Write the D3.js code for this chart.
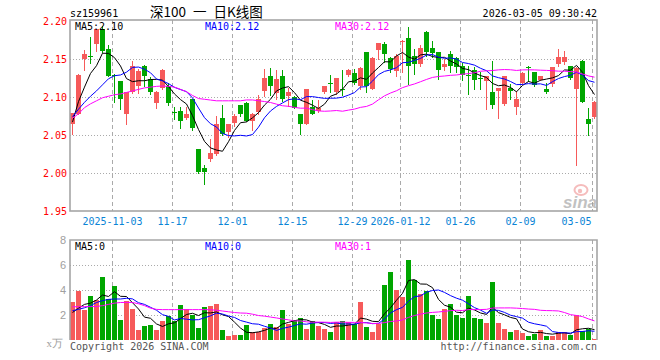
<!DOCTYPE html>
<html>
<head>
<meta charset="utf-8">
<script src="https://cdn.jsdelivr.net/npm/d3@7"></script>
<style>
  body { margin: 0; background: #fff; }
  svg { display: block; }
  .mono { font-family: "DejaVu Sans Mono", monospace; font-size: 10px; }
</style>
</head>
<body>
<svg id="chart" width="660" height="360"></svg>
<script>
// trading days shown, 2025-10-23 .. 2026-03-05
const dates = [
  "2025-10-23","2025-10-24","2025-10-27","2025-10-28","2025-10-29","2025-10-30","2025-10-31",
  "2025-11-03","2025-11-04","2025-11-05","2025-11-06","2025-11-07","2025-11-10","2025-11-11","2025-11-12","2025-11-13","2025-11-14",
  "2025-11-17","2025-11-18","2025-11-19","2025-11-20","2025-11-21","2025-11-24","2025-11-25","2025-11-26","2025-11-27","2025-11-28",
  "2025-12-01","2025-12-02","2025-12-03","2025-12-04","2025-12-05","2025-12-08","2025-12-09","2025-12-10","2025-12-11","2025-12-12",
  "2025-12-15","2025-12-16","2025-12-17","2025-12-18","2025-12-19","2025-12-22","2025-12-23","2025-12-24","2025-12-25","2025-12-26",
  "2025-12-29","2025-12-30","2025-12-31","2026-01-05","2026-01-06","2026-01-07","2026-01-08","2026-01-09",
  "2026-01-12","2026-01-13","2026-01-14","2026-01-15","2026-01-16","2026-01-19","2026-01-20","2026-01-21","2026-01-22","2026-01-23",
  "2026-01-26","2026-01-27","2026-01-28","2026-01-29","2026-01-30","2026-02-02","2026-02-03","2026-02-04","2026-02-05","2026-02-06",
  "2026-02-09","2026-02-10","2026-02-11","2026-02-12","2026-02-13","2026-02-24","2026-02-25","2026-02-26","2026-02-27",
  "2026-03-02","2026-03-03","2026-03-04","2026-03-05"
];

const open = [
  2.065,2.078,2.150,2.154,2.170,2.189,2.163,2.129,2.121,2.078,
  2.106,2.115,2.141,2.124,2.092,2.112,2.115,2.080,2.082,2.072,
  2.097,2.032,2.007,2.019,2.025,2.072,2.054,2.066,2.089,2.092,
  2.068,2.080,2.108,2.127,2.105,2.127,2.101,2.100,2.078,2.065,
  2.087,2.081,2.106,2.118,2.106,2.110,2.129,2.131,2.115,2.159,
  2.111,2.162,2.170,2.151,2.134,2.172,2.178,2.154,2.143,2.185,
  2.165,2.159,2.139,2.156,2.151,2.141,2.129,2.135,2.125,2.121,
  2.106,2.108,2.091,2.112,2.087,2.118,2.140,2.133,2.122,2.111,
  2.117,2.143,2.146,2.141,2.110,2.147,2.071,2.074
];
const high = [
  2.079,2.130,2.162,2.179,2.190,2.194,2.168,2.130,2.121,2.107,
  2.147,2.137,2.142,2.126,2.108,2.137,2.119,2.087,2.087,2.087,
  2.098,2.032,2.011,2.045,2.075,2.089,2.065,2.078,2.089,2.093,
  2.079,2.102,2.137,2.138,2.135,2.135,2.112,2.101,2.078,2.111,
  2.096,2.096,2.115,2.129,2.125,2.136,2.137,2.137,2.139,2.159,
  2.152,2.171,2.173,2.152,2.157,2.175,2.192,2.163,2.168,2.187,
  2.174,2.159,2.150,2.161,2.153,2.145,2.141,2.139,2.133,2.127,
  2.147,2.112,2.127,2.117,2.108,2.133,2.141,2.133,2.128,2.119,
  2.139,2.163,2.160,2.141,2.139,2.149,2.085,2.095
];
const low = [
  2.051,2.077,2.135,2.145,2.161,2.159,2.127,2.093,2.084,2.065,
  2.105,2.105,2.115,2.104,2.086,2.110,2.090,2.071,2.059,2.071,
  2.057,2.000,1.985,2.016,2.024,2.050,2.047,2.062,2.075,2.068,
  2.056,2.077,2.101,2.102,2.097,2.095,2.088,2.085,2.051,2.064,
  2.077,2.080,2.105,2.106,2.104,2.102,2.127,2.117,2.111,2.106,
  2.110,2.150,2.146,2.133,2.128,2.133,2.117,2.130,2.141,2.154,
  2.153,2.124,2.135,2.133,2.133,2.122,2.104,2.111,2.111,2.084,
  2.086,2.073,2.089,2.098,2.078,2.117,2.121,2.115,2.122,2.105,
  2.115,2.141,2.143,2.124,2.010,2.093,2.050,2.072
];
const close = [
  2.079,2.129,2.156,2.153,2.189,2.161,2.128,2.128,2.098,2.106,
  2.141,2.134,2.128,2.106,2.107,2.136,2.092,2.079,2.069,2.078,
  2.059,2.001,2.001,2.026,2.064,2.051,2.064,2.075,2.077,2.069,
  2.078,2.098,2.125,2.115,2.124,2.097,2.107,2.086,2.065,2.110,
  2.078,2.086,2.114,2.117,2.125,2.109,2.135,2.119,2.138,2.115,
  2.151,2.171,2.157,2.137,2.154,2.174,2.141,2.143,2.165,2.159,
  2.158,2.135,2.144,2.141,2.139,2.129,2.127,2.122,2.124,2.127,
  2.089,2.112,2.127,2.108,2.098,2.131,2.138,2.116,2.127,2.106,
  2.139,2.153,2.153,2.125,2.138,2.094,2.065,2.094
];
// volume, in the panel's own unit (x万)
const volume = [
  3.01,3.89,2.43,3.49,3.17,5.01,3.31,4.35,1.63,3.09,
  2.51,0.83,1.09,1.17,0.83,1.49,1.89,1.49,2.83,2.51,
  1.97,0.99,2.61,2.75,2.91,0.83,0.29,0.37,0.37,1.23,
  0.64,0.64,0.96,1.31,1.04,2.43,1.31,1.63,1.76,0.91,
  1.55,1.09,0.91,0.61,1.44,1.55,1.44,1.28,3.07,1.01,
  0.67,1.31,4.43,5.47,4.03,3.41,6.43,4.83,3.71,3.95,
  2.03,1.71,2.51,2.91,1.97,1.79,3.55,1.79,1.71,1.39,
  4.67,1.39,0.91,0.67,0.83,0.60,0.29,0.51,0.83,0.35,
  0.35,0.67,0.67,0.43,1.97,0.75,0.88,0.11
];

// moving averages before their window is full (history off the chart)
const ma5Head = [2.067,2.094,2.113,2.131];
const ma10Head = [2.074,2.084,2.093,2.101,2.108,2.116,2.124,2.128,2.129];
const ma30Head = [2.072,2.078,2.086,2.091,2.095,2.099,2.101,2.103,2.104,2.106,
  2.108,2.110,2.112,2.113,2.114,2.1145,2.114,2.113,2.110,2.107,
  2.102,2.098,2.097,2.096,2.095,2.095,2.095,2.095,2.095];
const vma5Head = [2.2,2.55,2.85,2.95];
const vma10Head = [2.35,2.45,2.58,2.75,3.0,3.15,3.25,3.28,3.28];
const vma30Head = [2.66,2.66,2.67,2.67,2.68,2.75,2.85,2.95,3.0,3.01,
  3.0,2.9,2.75,2.55,2.45,2.43,2.43,2.43,2.43,2.43,
  2.43,2.43,2.43,2.42,2.38,2.32,2.26,2.2,2.16];

const tickDates = ["2025-11-03","2025-11-17","2025-12-01","2025-12-15","2025-12-29","2026-01-12","2026-01-26","2026-02-09","2026-03-05"];
const tickLabels = ["2025-11-03","11-17","12-01","12-15","12-29","2026-01-12","01-26","02-09","03-05"];
const priceTicks = [1.95, 2.00, 2.05, 2.10, 2.15, 2.20];
const volTicks = [2, 4, 6, 8];
const maNames = ["MA5", "MA10", "MA30"];
const maLabelValues = ["2.10", "2.12", "2.12"];
const volMaLabelValues = ["0", "0", "1"];

const RED = "#f65a5a", GREEN = "#00a600", GRID = "#aaaaaa", FRAME = "#a6a6a6";
const maColors = ["#000000", "#0000ff", "#ff00ff"];

const svg = d3.select("#chart");
const left = 70, right = 597;
const mainTop = 20, mainBottom = 211;
const volTop = 240, volBottom = 340;

const x = d3.scaleBand().domain(dates).range([69, 597]);
const cx = d => x(d) + 3.5;
const y = d3.scaleLinear().domain([1.95, 2.20]).range([211, 21]);
const yv = d3.scaleLinear().domain([0, 8]).range([340, 240]);

const rows = dates.map((d, i) => ({date: d, o: open[i], h: high[i], l: low[i], c: close[i], v: volume[i]}));

function movingAvg(values, n, head) {
  return values.map((v, i) => i < n - 1 ? head[i] : d3.mean(values.slice(i - n + 1, i + 1)));
}
const priceMa = [movingAvg(close, 5, ma5Head), movingAvg(close, 10, ma10Head), movingAvg(close, 30, ma30Head)];
const volMa = [movingAvg(volume, 5, vma5Head), movingAvg(volume, 10, vma10Head), movingAvg(volume, 30, vma30Head)];

// grids
svg.append("g").selectAll("line")
  .data(priceTicks.filter(t => t > 1.96 && t < 2.19))
  .join("line")
  .attr("x1", left).attr("x2", right)
  .attr("y1", d => Math.round(y(d)) + 0.5).attr("y2", d => Math.round(y(d)) + 0.5)
  .attr("stroke", GRID).attr("stroke-dasharray", "1,2");

svg.append("g").selectAll("line")
  .data(volTicks.filter(t => t < 8))
  .join("line")
  .attr("x1", left).attr("x2", right)
  .attr("y1", d => Math.round(yv(d)) + 0.5).attr("y2", d => Math.round(yv(d)) + 0.5)
  .attr("stroke", GRID).attr("stroke-dasharray", "1,2");

const vx = d => x(d) + 1.5;
[[mainTop, mainBottom], [volTop, volBottom]].forEach(([t, b]) => {
  svg.append("g").selectAll("line")
    .data(tickDates)
    .join("line")
    .attr("x1", vx).attr("x2", vx)
    .attr("y1", t).attr("y2", b)
    .attr("stroke", GRID).attr("stroke-dasharray", "4,3");
});

// sina watermark
const wm = svg.append("g").attr("opacity", 0.6);
wm.append("ellipse").attr("cx", 581).attr("cy", 190).attr("rx", 6.5).attr("ry", 5)
  .attr("fill", "none").attr("stroke", "#f09090").attr("stroke-width", 2);
wm.append("circle").attr("cx", 580).attr("cy", 191).attr("r", 2.2).attr("fill", "#f09090");
wm.append("text").attr("x", 563).attr("y", 208)
  .attr("font-family", "Liberation Sans, sans-serif").attr("font-size", 17)
  .attr("font-weight", "bold").attr("font-style", "italic")
  .attr("fill", "#999").text("sina");

// candles
const candle = svg.append("g").selectAll("g").data(rows).join("g");
candle.append("line")
  .attr("x1", d => cx(d.date)).attr("x2", d => cx(d.date))
  .attr("y1", d => Math.round(y(d.h))).attr("y2", d => Math.round(y(d.l)) + 1)
  .attr("stroke", d => d.c >= d.o ? RED : GREEN);
candle.append("rect")
  .attr("x", d => x(d.date) + 1)
  .attr("width", 5)
  .attr("y", d => Math.round(y(Math.max(d.o, d.c))))
  .attr("height", d => Math.max(1, Math.round(y(Math.min(d.o, d.c))) - Math.round(y(Math.max(d.o, d.c)))))
  .attr("fill", d => d.c >= d.o ? RED : GREEN);

// volume bars
svg.append("g").selectAll("rect").data(rows).join("rect")
  .attr("x", d => x(d.date) + 1)
  .attr("width", 5)
  .attr("y", d => Math.round(yv(d.v)))
  .attr("height", d => volBottom - Math.round(yv(d.v)))
  .attr("fill", d => d.c >= d.o ? RED : GREEN);

// MA lines
const priceLine = d3.line().x((d, i) => cx(dates[i])).y(d => y(d));
const volLine = d3.line().x((d, i) => cx(dates[i])).y(d => yv(d));
priceMa.forEach((s, k) => {
  svg.append("path").datum(s).attr("d", priceLine)
    .attr("fill", "none").attr("stroke", maColors[k]).attr("stroke-width", 1);
});
volMa.forEach((s, k) => {
  svg.append("path").datum(s).attr("d", volLine)
    .attr("fill", "none").attr("stroke", maColors[k]).attr("stroke-width", 1);
});

// frames
svg.append("rect").attr("x", left).attr("y", mainTop)
  .attr("width", right - left).attr("height", mainBottom - mainTop)
  .attr("fill", "none").attr("stroke", FRAME).attr("stroke-width", 1.6);
svg.append("path")
  .attr("d", `M${left},${volBottom}V${volTop}H${right}V${volBottom}`)
  .attr("fill", "none").attr("stroke", FRAME).attr("stroke-width", 1.6);

// price axis labels
svg.append("g").selectAll("text").data(priceTicks).join("text")
  .attr("class", "mono")
  .attr("x", 67).attr("y", d => y(d) + 3.5)
  .attr("text-anchor", "end").attr("fill", "#ff0000")
  .attr("font-size", 11)
  .text(d => d.toFixed(2));

// volume axis labels
svg.append("g").selectAll("text").data(volTicks).join("text")
  .attr("x", 66).attr("y", d => yv(d) + 4)
  .attr("text-anchor", "end").attr("fill", "#a0a0a0")
  .attr("font-family", "Liberation Sans, sans-serif").attr("font-size", 11)
  .text(d => d);
svg.append("text").attr("x", 63).attr("y", 347)
  .attr("text-anchor", "end").attr("fill", "#a0a0a0")
  .attr("font-family", "Liberation Serif, serif").attr("font-size", 11)
  .text("x万");

// date labels
svg.append("g").selectAll("text").data(tickDates).join("text")
  .attr("class", "mono")
  .attr("x", (d, i) => i === tickDates.length - 1 ? vx(d) - 1 : vx(d))
  .attr("y", 225)
  .attr("text-anchor", (d, i) => i === tickDates.length - 1 ? "end" : "middle")
  .attr("fill", "#0a84d6")
  .text((d, i) => tickLabels[i]);

// MA legends
const legendX = [75, 205, 335];
maNames.forEach((n, k) => {
  svg.append("text").attr("class", "mono").attr("x", legendX[k]).attr("y", 30)
    .attr("fill", maColors[k]).text(n + ":" + maLabelValues[k]);
  svg.append("text").attr("class", "mono").attr("x", legendX[k]).attr("y", 250)
    .attr("fill", maColors[k]).text(n + ":" + volMaLabelValues[k]);
});

// header and footer
svg.append("text").attr("class", "mono").attr("x", 70).attr("y", 17).attr("fill", "#000").text("sz159961");
svg.append("text").attr("x", 150).attr("y", 17)
  .attr("font-family", "Noto Sans CJK SC, sans-serif").attr("font-size", 13.5)
  .attr("fill", "#000").attr("word-spacing", 4)
  .text("深100 一 日K线图");
svg.append("text").attr("class", "mono").attr("x", 597).attr("y", 17)
  .attr("text-anchor", "end").attr("fill", "#000").text("2026-03-05 09:30:42");
svg.append("text").attr("class", "mono").attr("x", 70).attr("y", 350)
  .attr("fill", "#555").text("Copyright 2026 SINA.COM");
svg.append("text").attr("class", "mono").attr("x", 597).attr("y", 350)
  .attr("text-anchor", "end").attr("fill", "#555").text("http://finance.sina.com.cn");
</script>
</body>
</html>
